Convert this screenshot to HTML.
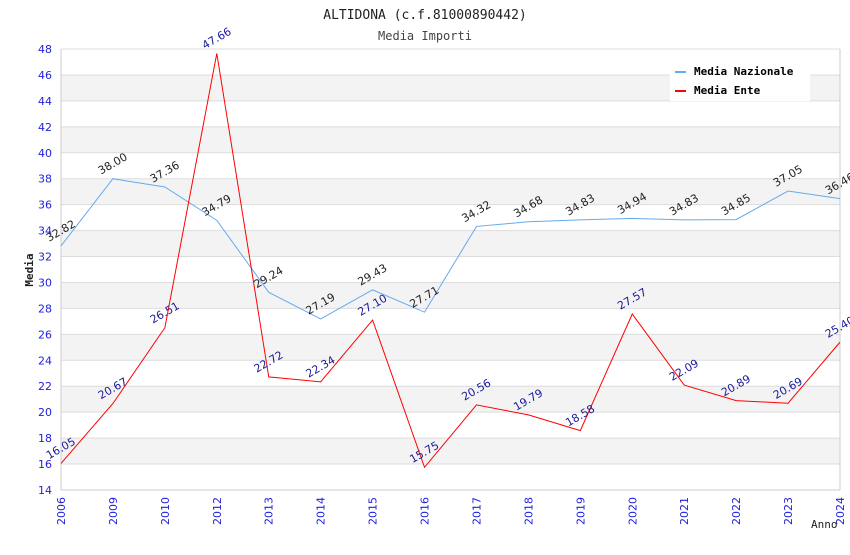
<!DOCTYPE html>
<html><head><meta charset="utf-8"><style>
body{margin:0;background:#fff;}
svg text{font-family:"DejaVu Sans Mono","Liberation Mono",monospace;}
</style></head><body>
<svg id="c" width="850" height="550" xmlns="http://www.w3.org/2000/svg">
<text x="425" y="19" text-anchor="middle" font-size="13" fill="#222">ALTIDONA (c.f.81000890442)</text>
<text x="425" y="40" text-anchor="middle" font-size="12" fill="#444">Media Importi</text>
<g id="grid"></g><g id="axes"></g><g id="series"></g>
<text x="33" y="270" transform="rotate(-90 33 270)" text-anchor="middle" font-size="11" font-weight="bold" fill="#222">Media</text>
<text x="811" y="528" font-size="11" fill="#222">Anno</text>
<g>
<rect x="670" y="60" width="140" height="41" fill="#fff"/>
<rect x="675" y="71" width="11" height="2" fill="#66aaee"/>
<text x="694" y="75" font-size="11" font-weight="bold" fill="#000">Media Nazionale</text>
<rect x="675" y="90" width="11" height="2" fill="#ff0000"/>
<text x="694" y="94" font-size="11" font-weight="bold" fill="#000">Media Ente</text>
</g>
</svg>
<script>
const years=["2006","2009","2010","2012","2013","2014","2015","2016","2017","2018","2019","2020","2021","2022","2023","2024"];
const nazionale=[32.82,38.00,37.36,34.79,29.24,27.19,29.43,27.71,34.32,34.68,34.83,34.94,34.83,34.85,37.05,36.46];
const ente=[16.05,20.67,26.51,47.66,22.72,22.34,27.10,15.75,20.56,19.79,18.58,27.57,22.09,20.89,20.69,25.40];
const yTicks=[14,16,18,20,22,24,26,28,30,32,34,36,38,40,42,44,46,48];
const NS="http://www.w3.org/2000/svg";
const X0=61,X1=840,Y0=490,Y1=49,YMIN=14,YMAX=48;
const SANS='font-family:"DejaVu Sans","Liberation Sans",sans-serif';
const xs=i=>X0+i*(X1-X0)/(years.length-1);
const ys=v=>Y0-(v-YMIN)*(Y0-Y1)/(YMAX-YMIN);
function mk(t,a,p){const e=document.createElementNS(NS,t);for(const k in a)e.setAttribute(k,a[k]);p.appendChild(e);return e;}
const grid=document.getElementById('grid'),axes=document.getElementById('axes'),ser=document.getElementById('series');
for(let i=0;i<yTicks.length-1;i++){
  if(i%2===1){const r=mk('rect',{x:X0,y:ys(yTicks[i+1]),width:X1-X0,height:ys(yTicks[i])-ys(yTicks[i+1]),fill:'#f3f3f3'},grid);
  
  }
}
yTicks.forEach(t=>{
  const l=mk('line',{x1:X0,x2:X1,y1:ys(t),y2:ys(t),stroke:'#dddddd','stroke-width':1},grid);
  
  
  const tx=mk('text',{x:X0-9,y:ys(t)+4,'text-anchor':'end','font-size':11,fill:'#2222dd',style:SANS},axes);
  
  
  tx.textContent=t;
});
mk('line',{x1:X0,x2:X0,y1:Y1,y2:Y0,stroke:'#ccc'},axes);
mk('line',{x1:X1,x2:X1,y1:Y1,y2:Y0,stroke:'#ccc'},axes);
mk('line',{x1:X0,x2:X1,y1:Y0,y2:Y0,stroke:'#ccc'},axes);
years.forEach((y,i)=>{
  const x=xs(i);
  const tx=mk('text',{x:x+4,y:497,'text-anchor':'end','font-size':11,fill:'#2222dd',style:SANS,transform:`rotate(-90 ${x+4} 497)`},axes);
  
  
  tx.textContent=y;
});
function draw(vals,color,lblColor,name){
  const pl=mk('polyline',{points:vals.map((v,i)=>xs(i)+','+ys(v)).join(' '),fill:'none',stroke:color,'stroke-width':1},ser);
  
  
  vals.forEach((v,i)=>{
    const x=xs(i)-12,y=ys(v)-4;
    const t=mk('text',{x:x,y:y,'font-size':11,fill:lblColor,transform:`rotate(-30 ${x} ${y})`,style:SANS},ser);
    
    
    t.textContent=v.toFixed(2);
  });
}
draw(nazionale,'#66aaee','#222','nazionale');
draw(ente,'#ff0000','#1a1a99','ente');
</script>
</body></html>
